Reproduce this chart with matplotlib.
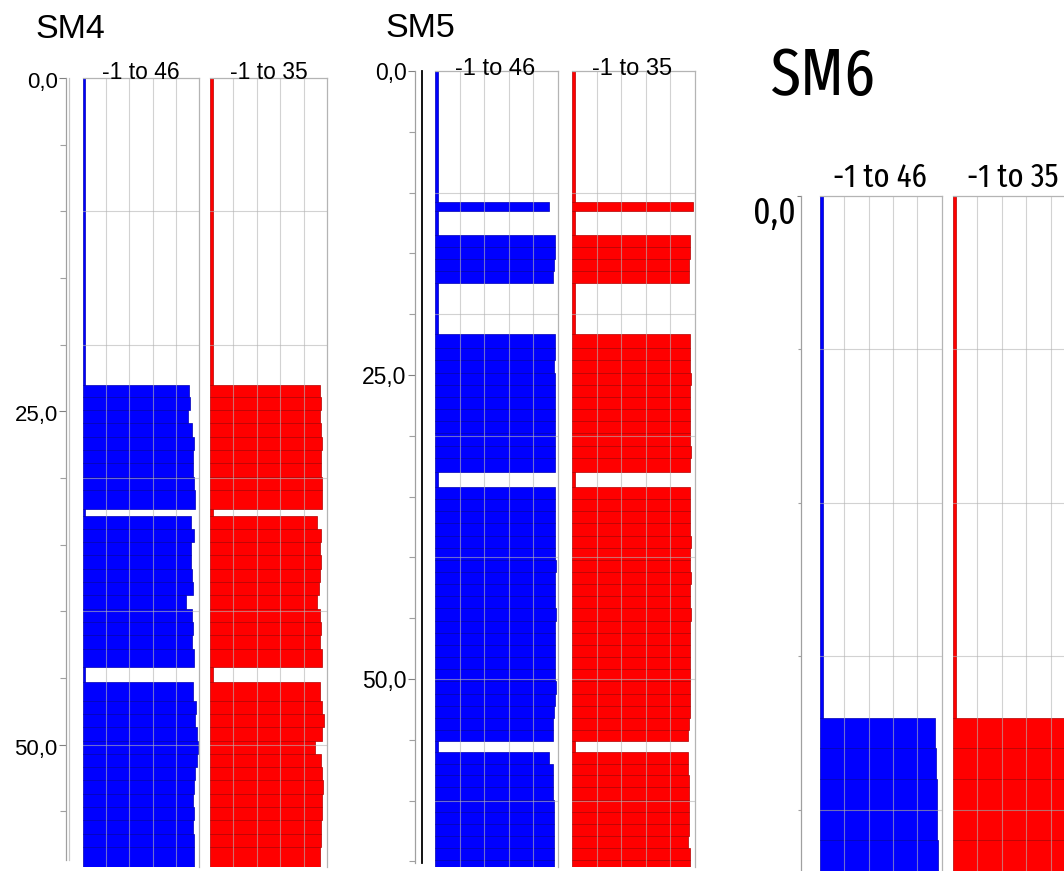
import matplotlib
matplotlib.use("Agg")
import matplotlib.pyplot as plt
import matplotlib.transforms as mtransforms
import numpy as np

FIG_W, FIG_H, DPI = 1064, 871, 100
plt.rcParams["font.family"] = ["Liberation Sans", "DejaVu Sans"]
NARROW = ["Fira Sans Extra Condensed", "Barlow Condensed", "Archivo Narrow",
          "Liberation Sans", "DejaVu Sans"]

# ---------------- data ----------------
track_labels = ["-1 to 46", "-1 to 35"]
blue_range = (-1, 46)
red_range = (-1, 35)

# SM4: interval boundaries (depth) and the value logged over each interval
sm4_edges = [0.0, 23.0, 23.9, 24.9, 25.9, 26.9, 27.9, 28.9, 29.9, 30.9, 32.3,
             32.85, 33.8, 34.8, 35.8, 36.8, 37.8, 38.8, 39.8, 40.8, 41.8, 42.8, 44.2,
             45.3, 46.7, 47.7, 48.7, 49.7, 50.7, 51.7, 52.7, 53.7, 54.7, 55.7, 56.7,
             57.7, 59.2]
sm4_blue = [0, 42.0, 42.4, 41.7, 43.0, 44.1, 43.4, 43.7, 44.0, 44.4,
            0, 42.6, 44.0, 42.6, 42.8, 43.2, 43.6, 40.7, 43.2, 43.6, 43.0, 44.0,
            0, 43.4, 44.7, 44.4, 45.1, 45.7, 45.1, 44.4, 44.1, 43.7, 44.0, 43.4,
            44.0, 44.0]
sm4_red = [0, 32.8, 33.2, 32.8, 33.1, 33.4, 33.2, 33.1, 33.4, 33.4,
           0, 31.8, 33.1, 32.8, 33.1, 32.8, 32.6, 31.9, 32.8, 33.1, 32.8, 33.4,
           0, 32.8, 33.4, 34.1, 33.4, 31.4, 33.1, 33.6, 33.7, 33.6, 33.4, 33.2,
           33.1, 32.8]

# SM5
sm5_edges = [0.0, 10.8, 11.5, 13.45, 14.45, 15.45, 16.45, 17.45,
             21.65, 22.8, 23.8, 24.8, 25.8, 26.8, 27.8, 28.8, 29.8, 30.8, 31.8, 33.0,
             34.2, 35.2, 36.2, 37.2, 38.2, 39.2, 40.2, 41.2, 42.2, 43.2, 44.2, 45.2,
             46.2, 47.2, 48.2, 49.2, 50.2, 51.2, 52.2, 53.2, 54.2, 55.07,
             56.0, 56.95, 57.9, 58.9, 59.95, 60.9, 61.9, 62.95, 63.9, 64.9, 65.5]
sm5_blue = [0, 42.7, 0, 44.9, 44.9, 44.4, 44.2, 0,
            44.9, 44.9, 44.3, 44.9, 45.0, 45.0, 45.0, 44.9, 45.0, 44.9, 44.9, 0,
            44.9, 45.0, 44.9, 45.0, 45.0, 44.9, 45.3, 44.9, 45.0, 45.0, 45.2,
            44.9, 44.9, 45.0, 44.9, 45.0, 45.3, 44.9, 44.3, 44.2, 44.0, 0,
            42.7, 44.0, 44.2, 44.2, 44.4, 44.6, 44.6, 44.5, 44.6, 44.6]
sm5_red = [0, 34.3, 0, 33.6, 33.4, 33.2, 33.1, 0,
           33.5, 33.5, 33.6, 33.8, 33.5, 33.5, 33.5, 33.5, 33.5, 33.8, 33.5, 0,
           33.5, 33.5, 33.6, 33.5, 33.8, 33.5, 33.5, 33.8, 33.5, 33.5, 33.8,
           33.5, 33.5, 33.6, 33.5, 33.5, 33.6, 33.5, 33.4, 33.1, 33.0, 0,
           32.9, 33.0, 33.2, 33.2, 33.2, 33.3, 33.2, 33.0, 33.4, 33.4]

# SM6
sm6_edges = [0.0, 17.0, 18.0, 19.0, 20.0, 21.0, 22.0, 23.0]
sm6_blue = [0, 43.4, 43.8, 44.1, 44.3, 44.7, 44.7]
sm6_red = [0, 33.3, 33.5, 33.6, 33.5, 33.7, 33.6]

depth_major = [0, 25, 50]
depth_major_labels = ["0,0", "25,0", "50,0"]

# ---------------- layout (pixels) ----------------
panels = [
    dict(title="SM4", edges=sm4_edges, blue=sm4_blue, red=sm4_red,
         top=78, ppu=13.33, axis_x=66, axis_w=3, axis_end=58.7,
         blue_x=(83, 199), red_x=(210, 327), hgrid=10, minor=5,
         title_xy=(35, 38), title_size=24.5, font=None,
         lab_base=79, lab_size=16.5, tick_size=16, tick_len=5, tick_drop=2,
         inner_line="#c8c8c8"),
    dict(title="SM5", edges=sm5_edges, blue=sm5_blue, red=sm5_red,
         top=71, ppu=12.16, axis_x=415, axis_w=7, axis_end=65.1,
         blue_x=(435, 558), red_x=(572, 695), hgrid=10, minor=5,
         title_xy=(385, 37), title_size=24.5, font=None,
         lab_base=75, lab_size=17, tick_size=16.5, tick_len=5, tick_drop=0,
         inner_line="black"),
    dict(title="SM6", edges=sm6_edges, blue=sm6_blue, red=sm6_red,
         top=195.7, ppu=30.7, axis_x=801, axis_w=0, axis_end=23.0,
         blue_x=(820, 941.7), red_x=(953, 1075), hgrid=5, minor=5,
         title_xy=(770, 95), title_size=48, font=NARROW,
         lab_base=187, lab_size=24, tick_size=26, tick_len=3, tick_drop=14,
         inner_line=None),
]

fig = plt.figure(figsize=(FIG_W / DPI, FIG_H / DPI), dpi=DPI)


def px_axes(left, top, width, height):
    return fig.add_axes([left / FIG_W, 1 - (top + height) / FIG_H,
                         width / FIG_W, height / FIG_H])


def draw_track(ax, edges, values, rng, face, edge, hgrid):
    e = np.asarray(edges)
    v = np.asarray(values)
    ax.barh((e[:-1] + e[1:]) / 2, v - rng[0], left=rng[0], height=np.diff(e),
            color=face, edgecolor=edge, linewidth=0.5, zorder=2)
    ax.set_xlim(*rng)
    ax.set_ylim(e[-1], 0)
    ax.set_xticks(np.linspace(rng[0], rng[1], 6)[1:-1])
    ax.set_yticks(np.arange(hgrid, e[-1], hgrid))
    ax.grid(True, color="#b4b4b4", linewidth=0.8, alpha=0.6, zorder=3)
    ax.set_axisbelow(False)
    ax.tick_params(length=0, labelleft=False, labelbottom=False)
    for s in ("left", "bottom"):
        ax.spines[s].set_visible(False)
    for s in ("top", "right"):
        ax.spines[s].set_color("#b4b4b4")
        ax.spines[s].set_linewidth(0.9)
    ax.patch.set_alpha(0)


for p in panels:
    fam = p["font"] or plt.rcParams["font.family"]
    e_end = p["edges"][-1]
    height = e_end * p["ppu"]

    for (x0, x1), vals, rng, face, edge, lab in (
            (p["blue_x"], p["blue"], blue_range, "#0000ff", "#0000b4", track_labels[0]),
            (p["red_x"], p["red"], red_range, "#ff0000", "#b40000", track_labels[1])):
        ax = px_axes(x0, p["top"], x1 - x0, height)
        draw_track(ax, p["edges"], vals, rng, face, edge, p["hgrid"])
        xc = min((x0 + x1) / 2, x0 + 60)
        fig.text(xc / FIG_W, 1 - p["lab_base"] / FIG_H, lab, ha="center",
                 va="baseline", fontsize=p["lab_size"], family=fam, zorder=5)

    # depth axis
    ax_h = p["axis_end"] * p["ppu"]
    dax = px_axes(p["axis_x"], p["top"], max(p["axis_w"], 0.5), ax_h)
    dax.set_ylim(p["axis_end"], 0)
    dax.set_xticks([])
    maj = [d for d in depth_major if d <= p["axis_end"]]
    dax.set_yticks(maj)
    dax.set_yticklabels(depth_major_labels[:len(maj)])
    dax.set_yticks(np.arange(p["minor"], p["axis_end"], p["minor"]), minor=True)
    dax.tick_params(axis="y", which="major", length=p["tick_len"], width=0.8,
                    color="#808080", pad=1, labelsize=p["tick_size"])
    dax.tick_params(axis="y", which="minor", length=p["tick_len"] - 1, width=0.8,
                    color="#a0a0a0")
    shift = mtransforms.ScaledTranslation(0, -p["tick_drop"] / DPI, fig.dpi_scale_trans)
    for t in dax.get_yticklabels():
        t.set_family(fam)
        t.set_transform(t.get_transform() + shift)
    dax.spines["left"].set_color("#a0a0a0")
    dax.spines["left"].set_linewidth(0.9)
    for s in ("top", "bottom"):
        dax.spines[s].set_visible(False)
    if p["inner_line"] and p["axis_w"] > 0:
        dax.spines["right"].set_color(p["inner_line"])
        dax.spines["right"].set_linewidth(1.3 if p["inner_line"] == "black" else 0.9)
    else:
        dax.spines["right"].set_visible(False)
    dax.patch.set_alpha(0)

    # panel title
    tx, ty = p["title_xy"]
    fig.text(tx / FIG_W, 1 - ty / FIG_H, p["title"], ha="left", va="baseline",
             fontsize=p["title_size"], family=fam)

fig.savefig("out.png", dpi=DPI)
